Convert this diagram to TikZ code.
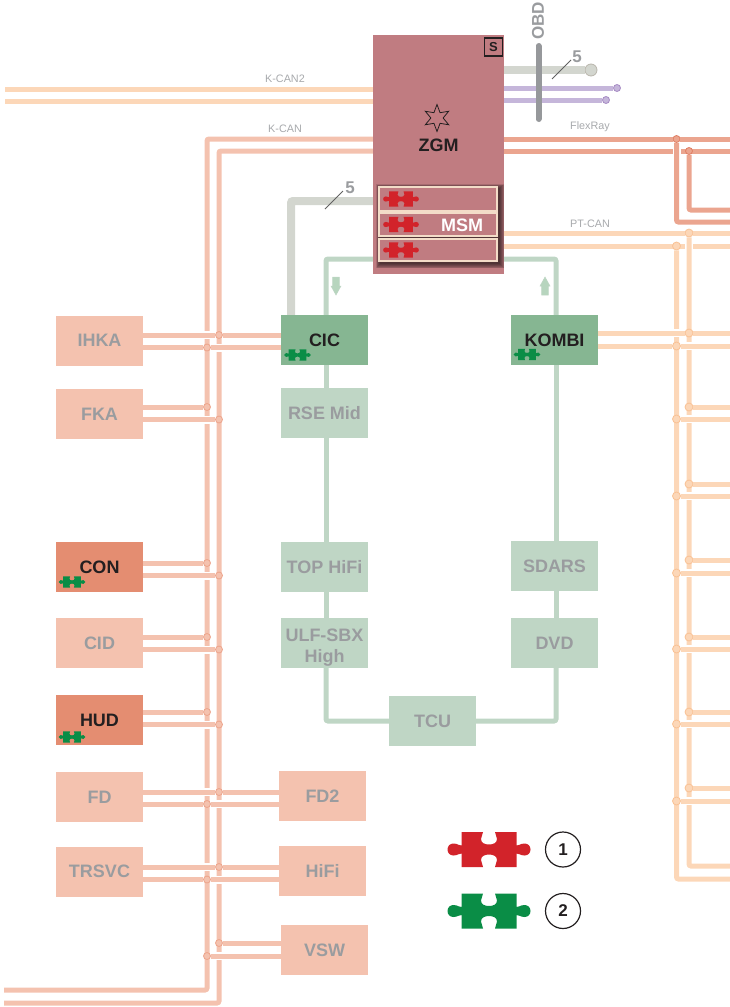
\documentclass[tikz,border=0pt]{standalone}
\usepackage{fontspec}
\setmainfont{Liberation Sans}
\usetikzlibrary{shapes.geometric}
\definecolor{kcol}{HTML}{F4C2AF}
\definecolor{kdot}{HTML}{EDA58C}
\definecolor{kact}{HTML}{E48D71}
\definecolor{ptcol}{HTML}{FCD7B8}
\definecolor{ptdot}{HTML}{F9C295}
\definecolor{flexcol}{HTML}{EBA58F}
\definecolor{flexdot}{HTML}{E07E63}
\definecolor{zgmcol}{HTML}{C07C81}
\definecolor{mostlt}{HTML}{BFD6C5}
\definecolor{mostdk}{HTML}{86B692}
\definecolor{mostarrow}{HTML}{B7D5BE}
\definecolor{greyline}{HTML}{D3D6CF}
\definecolor{greydot}{HTML}{B9B6AC}
\definecolor{purpline}{HTML}{C5B6DA}
\definecolor{purpdot}{HTML}{A78CC4}
\definecolor{obdcol}{HTML}{96989B}
\definecolor{mutetxt}{HTML}{9A9C9F}
\definecolor{labeltxt}{HTML}{A7A9AC}
\definecolor{darktxt}{HTML}{231F20}
\definecolor{pzred}{HTML}{D2232A}
\definecolor{pzgreen}{HTML}{0A8D46}
\definecolor{msmedge}{HTML}{F3DCC8}
\newcommand\boldtxt{\fontsize{18}{21}\selectfont\bfseries}
\newcommand\smalltxt{\fontsize{10.8}{12}\selectfont}
\tikzset{
  unit/.style={rectangle,minimum width=87pt,minimum height=50pt,inner sep=0pt,font=\boldtxt,align=center,text=mutetxt},
  kbox/.style={unit,fill=kcol},
  kactive/.style={unit,fill=kact,text=darktxt},
  mbox/.style={unit,fill=mostlt},
  mactive/.style={unit,fill=mostdk,text=darktxt},
  kbus/.style={draw=kcol,line width=5pt,rounded corners=2pt},
  ptbus/.style={draw=ptcol,line width=5pt,rounded corners=2pt},
  flexbus/.style={draw=flexcol,line width=5pt,rounded corners=2pt},
  mostbus/.style={draw=mostlt,line width=5pt,rounded corners=2pt},
  greybus/.style={draw=greyline,line width=8pt,rounded corners=2pt},
  purpbus/.style={draw=purpline,line width=5pt},
  halo/.style={draw=white,line width=8pt},
  jdot/.style={circle,inner sep=0pt,minimum size=7pt,line width=.8pt},
  kj/.style={jdot,fill=kcol,draw=kdot},
  ptj/.style={jdot,minimum size=8pt,fill=ptcol,draw=ptdot},
  flexj/.style={jdot,fill=flexcol,draw=flexdot},
  buslabel/.style={font=\smalltxt,text=labeltxt,inner sep=0pt},
  countlabel/.style={font=\fontsize{17}{18}\selectfont\bfseries,text=mutetxt,inner sep=0pt},
  slashline/.style={draw=black!62,line width=.8pt},
  msmbar/.style={rectangle,inner sep=0pt,fill=zgmcol,draw=msmedge,line width=1.2pt,minimum width=118pt},
  legendnum/.style={circle,draw=darktxt,line width=1.2pt,minimum size=35pt,inner sep=0pt,font=\fontsize{17}{18}\selectfont\bfseries,text=darktxt},
  puzzle/.pic={
    \fill[pic actions] (-27.5,-17.5) -- (-6,-17.5)
      .. controls (-6,-14.5) and (-8,-13.5) .. (-8,-10.5)
      .. controls (-8,-6.5) and (-4,-5) .. (0,-5)
      .. controls (4,-5) and (8,-6.5) .. (8,-10.5)
      .. controls (8,-13.5) and (6,-14.5) .. (6,-17.5)
      -- (27.5,-17.5) -- (27.5,-4)
      .. controls (30,-3.5) and (31,-6) .. (35.5,-6)
      .. controls (39,-6) and (41.5,-3.5) .. (41.5,0)
      .. controls (41.5,3.5) and (39,6) .. (35.5,6)
      .. controls (31,6) and (30,3.5) .. (27.5,4)
      -- (27.5,17.5) -- (6,17.5)
      .. controls (6,14.5) and (8,13.5) .. (8,10.5)
      .. controls (8,6.5) and (4,5) .. (0,5)
      .. controls (-4,5) and (-8,6.5) .. (-8,10.5)
      .. controls (-8,13.5) and (-6,14.5) .. (-6,17.5)
      -- (-27.5,17.5) -- (-27.5,4)
      .. controls (-30,3.5) and (-31,6) .. (-35.5,6)
      .. controls (-39,6) and (-41.5,3.5) .. (-41.5,0)
      .. controls (-41.5,-3.5) and (-39,-6) .. (-35.5,-6)
      .. controls (-31,-6) and (-30,-3.5) .. (-27.5,-4) -- cycle;
  }
}
\begin{document}
\begin{tikzpicture}[x=1pt,y=-1pt]
\useasboundingbox (0,0) rectangle (730,1007);

% ---- boxes
\node[rectangle,fill=zgmcol,minimum width=131pt,minimum height=239pt,inner sep=0pt] (ZGM) at (438.5,154.5) {};
\node[kbox] (IHKA) at (99.5,340.5) {IHKA};
\node[kbox] (FKA) at (99.5,414) {FKA};
\node[kactive] (CON) at (99.5,567) {CON};
\node[kbox] (CID) at (99.5,643) {CID};
\node[kactive] (HUD) at (99.5,720) {HUD};
\node[kbox] (FD) at (99.5,797) {FD};
\node[kbox] (TRSVC) at (99.5,871.5) {TRSVC};
\node[kbox] (FD2) at (322.5,796) {FD2};
\node[kbox] (HiFi) at (322.5,871) {HiFi};
\node[kbox] (VSW) at (324.5,950) {VSW};
\node[mactive] (CIC) at (324.5,340) {CIC};
\node[mbox] (RSE) at (324.5,413) {RSE Mid};
\node[mbox] (TOP) at (324.5,567) {TOP HiFi};
\node[mbox] (ULF) at (324.5,643) {};
\node[font=\boldtxt,align=center,text=mutetxt,inner sep=0pt] (ULFt) at (324.5,647.5) {ULF-SBX\\High};
\node[mbox] (TCU) at (432.5,721) {TCU};
\node[mactive] (KOMBI) at (554.5,340) {KOMBI};
\node[mbox] (SDARS) at (554.5,566) {SDARS};
\node[mbox] (DVD) at (554.5,643) {DVD};

% ---- MOST ring
\coordinate (rTL) at (326,259);
\coordinate (rTR) at (556,259);
\coordinate (rBL) at (326,721);
\coordinate (rBR) at (556,721);
\draw[mostbus] (ZGM.west |- rTL) -- (rTL) -- (CIC.north -| rTL);
\draw[mostbus] (CIC.south -| rTL) -- (RSE.north -| rTL);
\draw[mostbus] (RSE.south -| rTL) -- (TOP.north -| rTL);
\draw[mostbus] (TOP.south -| rTL) -- (ULF.north -| rTL);
\draw[mostbus] (ULF.south -| rTL) -- (rBL) -- (TCU.west |- rBL);
\draw[mostbus] (TCU.east |- rBR) -- (rBR) -- (DVD.south -| rBR);
\draw[mostbus] (DVD.north -| rBR) -- (SDARS.south -| rBR);
\draw[mostbus] (SDARS.north -| rBR) -- (KOMBI.south -| rBR);
\draw[mostbus] (KOMBI.north -| rBR) -- (rTR) -- (ZGM.east |- rTR);

% ---- grey line to CIC
\coordinate (gC) at (291,201);
\draw[greybus] (ZGM.west |- gC) -- (gC) -- (CIC.north -| gC);

% ---- K-CAN2
\coordinate (k2a) at (5,89);
\coordinate (k2b) at (5,101);
\draw[ptbus] (k2a) -- (ZGM.west |- k2a);
\draw[ptbus] (k2b) -- (ZGM.west |- k2b);
\node[buslabel] (lK2) at (285,78.5) {K-CAN2};

% ---- K-CAN verticals
\coordinate (kT1) at (207,139);
\coordinate (kT2) at (219,151);
\coordinate (kB1) at (207,990);
\coordinate (kB2) at (219,1003);
\coordinate (kE1) at (4,990);
\coordinate (kE2) at (4,1003);
\draw[kbus] (ZGM.west |- kT1) -- (kT1) -- (kB1) -- (kE1);
\draw[kbus] (ZGM.west |- kT2) -- (kT2) -- (kB2) -- (kE2);
\node[buslabel] (lK) at (285,129) {K-CAN};

% pass-through branches (upper joins the right bus, lower the left bus)
\foreach \bx/\by/\ya/\yb in {IHKA/CIC/335/347.5,FD/FD2/792/804,TRSVC/HiFi/867/879.5}{
  \draw[halo] (203.5,\ya) -- (210.5,\ya);
  \draw[halo] (215.5,\yb) -- (222.5,\yb);
  \node[kj] (\bx-a) at (219,\ya) {};
  \node[kj] (\bx-b) at (207,\yb) {};
  \draw[kbus] (\bx.east |- \bx-a) -- (\bx-a) -- (\by.west |- \bx-a);
  \draw[kbus] (\bx.east |- \bx-b) -- (\bx-b) -- (\by.west |- \bx-b);
}
% end branches from the left
\foreach \bx/\ya/\yb in {FKA/407/419.5,CON/563/575.5,CID/637/649.5,HUD/712/724.5}{
  \draw[halo] (203.5,\yb) -- (210.5,\yb);
  \node[kj] (\bx-a) at (207,\ya) {};
  \node[kj] (\bx-b) at (219,\yb) {};
  \draw[kbus] (\bx.east |- \bx-a) -- (\bx-a);
  \draw[kbus] (\bx.east |- \bx-b) -- (\bx-b);
}
% VSW from the right
\draw[halo] (215.5,956) -- (222.5,956);
\node[kj] (VSW-a) at (219,943) {};
\node[kj] (VSW-b) at (207,956) {};
\draw[kbus] (VSW.west |- VSW-a) -- (VSW-a);
\draw[kbus] (VSW.west |- VSW-b) -- (VSW-b);

% ---- FlexRay
\coordinate (fE1) at (730,139);
\coordinate (fE2) at (730,151);
\coordinate (fE3) at (730,222);
\coordinate (fE4) at (730,210);
\coordinate (fB1) at (676.5,222);
\coordinate (fB2) at (689,210);
\draw[flexbus] (ZGM.east |- fE2) -- (fE2);
\draw[draw=white,line width=8pt] (676.5,147) -- (676.5,155);
\node[flexj] (fJ1) at (676.5,139) {};
\node[flexj] (fJ2) at (689,151) {};
\draw[flexbus] (ZGM.east |- fE1) -- (fJ1) -- (fE1);
\draw[flexbus] (fJ1) -- (fB1) -- (fE3);
\draw[flexbus] (fJ2) -- (fB2) -- (fE4);
\node[buslabel] (lF) at (590,127) {FlexRay};

% ---- PT-CAN
\coordinate (pE1) at (730,233);
\coordinate (pE2) at (730,246);
\coordinate (pE3) at (730,866);
\coordinate (pE4) at (730,879);
\coordinate (pB3) at (689,866);
\coordinate (pB4) at (676.5,879);
\draw[ptbus] (ZGM.east |- pE2) -- (pE2);
\draw[draw=white,line width=8pt] (689,242) -- (689,250);
\node[ptj] (pJ1) at (689,233) {};
\node[ptj] (pJ2) at (676.5,246) {};
\draw[ptbus] (ZGM.east |- pE1) -- (pJ1) -- (pE1);
\draw[ptbus] (pJ1) -- (pB3) -- (pE3);
\draw[ptbus] (pJ2) -- (pB4) -- (pE4);
\node[buslabel] (lP) at (590,224) {PT-CAN};

% KOMBI branches pass through
\draw[halo] (673,333) -- (680,333);
\draw[halo] (685.5,346) -- (692.5,346);
\node[ptj] (kmA) at (689,333) {};
\node[ptj] (kmB) at (676.5,346) {};
\coordinate (kmEa) at (730,333);
\coordinate (kmEb) at (730,346);
\draw[ptbus] (KOMBI.east |- kmA) -- (kmA) -- (kmEa);
\draw[ptbus] (KOMBI.east |- kmB) -- (kmB) -- (kmEb);

% right side stubs
\foreach \i/\ya/\yb in {1/407/419,2/484/496,3/560/573,4/637/649,5/712/724,6/788/801}{
  \draw[halo] (685.5,\yb) -- (692.5,\yb);
  \node[ptj] (rA\i) at (689,\ya) {};
  \node[ptj] (rB\i) at (676.5,\yb) {};
  \coordinate (rEa\i) at (730,\ya);
  \coordinate (rEb\i) at (730,\yb);
  \draw[ptbus] (rA\i) -- (rEa\i);
  \draw[ptbus] (rB\i) -- (rEb\i);
}

% ---- top right, OBD
\node[circle,fill=greyline,draw=greydot,line width=.8pt,minimum size=12pt,inner sep=0pt] (dG) at (591,70) {};
\node[jdot,fill=purpline,draw=purpdot] (dP1) at (617,88) {};
\node[jdot,fill=purpline,draw=purpdot] (dP2) at (606,100) {};
\draw[greybus] (ZGM.east |- dG) -- (dG);
\draw[purpbus] (ZGM.east |- dP1) -- (dP1);
\draw[purpbus] (ZGM.east |- dP2) -- (dP2);
\coordinate (obT) at (538.5,46);
\coordinate (obB) at (538.5,119);
\draw[draw=obdcol,line width=6pt,line cap=round] (obT) -- (obB);
\node[rotate=90,font=\fontsize{17}{18}\selectfont\bfseries,text=mutetxt,inner sep=0pt] (OBD) at (538,21) {OBD};
\node[countlabel] (n5a) at (577,57) {5};
\coordinate (s5a1) at (552,79);
\coordinate (s5a2) at (571,60);
\draw[slashline] (s5a1) -- (s5a2);
\node[countlabel] (n5b) at (350,188) {5};
\coordinate (s5b1) at (325,209);
\coordinate (s5b2) at (343,191);
\draw[slashline] (s5b1) -- (s5b2);

% ---- ZGM content
\node[draw=darktxt,line width=1.1pt,minimum size=18pt,inner sep=0pt,font=\fontsize{13}{14}\selectfont\bfseries,text=darktxt] (S) at (493.5,47) {S};
\node[star,star points=6,star point ratio=2.2,draw=darktxt,line width=.8pt,minimum size=27pt,inner sep=0pt] (star) at (437,118) {};
\node[font=\boldtxt,text=darktxt,inner sep=0pt] (ZGMt) at (438.5,145) {ZGM};

% MSM shadows and bars
\foreach \k in {1,...,6}{
  \fill[black,opacity=.13] ({379+2-(7-\k)*.9},{187+2-(7-\k)*.9}) rectangle ({497+2+(7-\k)*.9},{261+2+(7-\k)*.9});
}
\node[msmbar,minimum height=24pt] (bar1) at (438,199) {};
\node[msmbar,minimum height=23pt] (bar2) at (438,224.5) {};
\node[msmbar,minimum height=22pt] (bar3) at (438,250) {};
\pic[fill=pzred,scale=.43] at (401,199) {puzzle};
\pic[fill=pzred,scale=.43] at (401,224.5) {puzzle};
\pic[fill=pzred,scale=.43] at (401,250) {puzzle};
\node[font=\boldtxt,text=white,inner sep=0pt] (MSM) at (462,225) {MSM};

% small green puzzles
\pic[fill=pzgreen,scale=.32] at (297.5,355) {puzzle};
\pic[fill=pzgreen,scale=.32] at (527,354.5) {puzzle};
\pic[fill=pzgreen,scale=.32] at (72,582) {puzzle};
\pic[fill=pzgreen,scale=.32] at (72,737) {puzzle};

% arrows
\fill[mostarrow,draw=mostlt,line width=.5pt] (332.7,277) -- (339.3,277) -- (339.3,286) -- (341,286) -- (336,295) -- (331,286) -- (332.7,286) -- cycle;
\fill[mostarrow,draw=mostlt,line width=.5pt] (541.7,295) -- (548.3,295) -- (548.3,286) -- (550,286) -- (545,277) -- (540,286) -- (541.7,286) -- cycle;

% legend
\pic[fill=pzred] at (489,849.5) {puzzle};
\pic[fill=pzgreen] at (489,911) {puzzle};
\node[legendnum] (one) at (563,849.5) {1};
\node[legendnum] (two) at (563,911) {2};
\end{tikzpicture}
\end{document}
